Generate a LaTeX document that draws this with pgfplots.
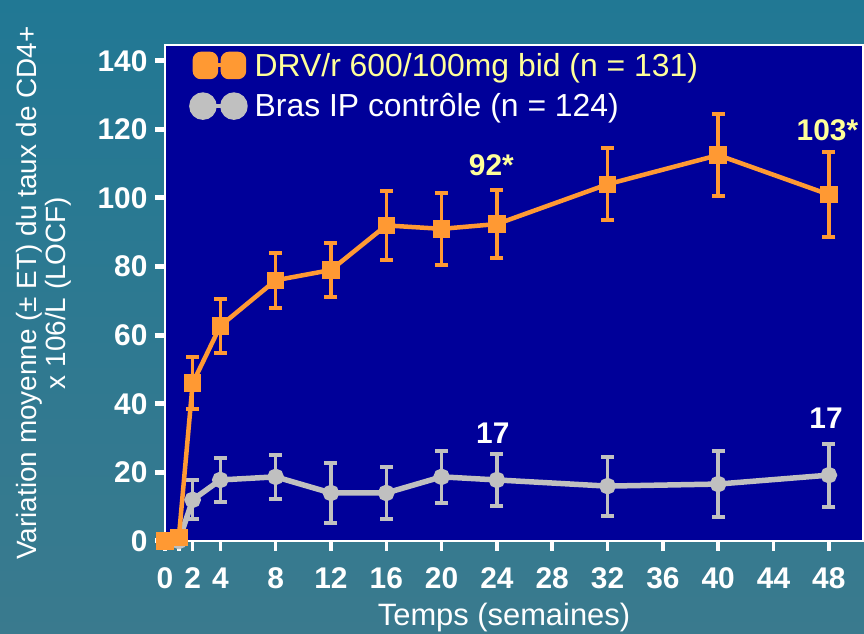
\documentclass[border=0pt]{standalone}
\usepackage{pgfplots}
\pgfplotsset{compat=1.18}
\usepackage{fontspec}
\setmainfont{Liberation Sans}
\definecolor{bgblue}{RGB}{0,0,153}
\definecolor{orn}{RGB}{255,153,51}
\definecolor{gry}{RGB}{192,192,192}
\definecolor{yel}{RGB}{255,255,153}
\definecolor{tealA}{RGB}{33,120,148}
\definecolor{tealB}{RGB}{58,122,142}

\pgfplotstableread{
x y e
0 0 0
1 1 0
2 46 7.5
4 62.7 7.8
8 76 8
12 79 8
16 92 10
20 91 10.5
24 92.4 10
32 104 10.5
40 112.5 12
48 101 12.3
}\drvdata

\pgfplotstableread{
x y e
0 0 0
1 0 0
2 12 5.7
4 17.8 6.4
8 18.7 6.5
12 14 8.7
16 14 7.6
20 18.7 7.6
24 17.8 7.7
32 16 8.6
40 16.6 9.5
48 19.2 9.2
}\ipdata

\begin{document}
\begin{tikzpicture}[x=1bp,y=1bp]
\shade[top color=tealA,bottom color=tealB] (-165,-93) rectangle (699,541);
\begin{axis}[at={(0,0)},anchor=south west, scale only axis,
  width=698bp, height=496bp,
  xmin=0, xmax=50.47, ymin=0, ymax=144.6, clip=false,
  axis background/.style={fill=bgblue},
  axis line style={white, line width=1.5bp},
  xtick={0,1,2,4,8,12,16,20,24,28,32,36,40,44,48},
  xticklabels={0,,2,4,8,12,16,20,24,28,32,36,40,44,48},
  ytick={0,20,...,140},
  xtick pos=bottom, ytick pos=left,
  tick align=outside, major tick length=10bp,
  every x tick/.style={white, line width=3.5bp},
  every y tick/.style={white, line width=5bp},
  ticklabel style={font=\fontsize{30}{31}\selectfont\bfseries, text=white},
  xticklabel style={yshift=-13bp},
  yticklabel style={xshift=-4bp},
  /pgf/number format/assume math mode=true,
  xlabel={Temps (semaines)},
  xlabel style={at={(rel axis cs:0,0)}, anchor=center, xshift=339bp, yshift=-77bp,
    font=\fontsize{31}{31}\selectfont, text=white},
  ylabel={Variation moyenne (± ET) du taux de CD4+\\x 106/L (LOCF)},
  ylabel style={at={(rel axis cs:0,0.5)}, anchor=center, yshift=121bp,
    align=center, font=\fontsize{28}{29}\selectfont, text=white},
  legend style={at={(rel axis cs:0,1)}, anchor=north west, xshift=21bp, yshift=-4bp,
    draw=none, fill=none, font=\fontsize{32}{33}\selectfont,
    row sep=12bp},
  legend cell align=left,
  reverse legend,
]
\addplot[gry, line width=5.5bp, mark=*, mark size=5.5bp,
  error bars/.cd, y dir=both, y explicit,
  error bar style={line width=3.5bp, gry},
  error mark options={rotate=90, line width=4bp, mark size=6.5bp, gry},
  /pgfplots/legend image code/.code={
    \draw[gry,line width=4bp] (10.5bp,0bp)--(38.5bp,0bp);
    \fill[gry] (8bp,0bp) circle (11bp);
    \fill[gry] (39bp,0bp) circle (11bp);
    \path (55bp,0bp);}
  ] table[x=x, y=y, y error=e] {\ipdata};
\addlegendentry{\color{white}Bras IP contrôle (n = 124)}
\addplot[orn, line width=4.5bp, mark=square*, mark size=6.5bp,
  error bars/.cd, y dir=both, y explicit,
  error bar style={line width=3.5bp, orn},
  error mark options={rotate=90, line width=4bp, mark size=6.5bp, orn},
  /pgfplots/legend image code/.code={
    \draw[orn,line width=4bp] (10.5bp,0bp)--(38.5bp,0bp);
    \fill[orn,rounded corners=6bp] (0bp,-11.5bp) rectangle (21bp,11.5bp);
    \fill[orn,rounded corners=6bp] (28bp,-11.5bp) rectangle (49bp,11.5bp);
    \path (55bp,0bp);}
  ] table[x=x, y=y, y error=e] {\drvdata};
\addlegendentry{\color{yel}DRV/r 600/100mg bid (n = 131)}
\node[font=\fontsize{30}{30}\selectfont\bfseries, text=yel] at (axis cs:23.6,109.6) {92*};
\node[font=\fontsize{30}{30}\selectfont\bfseries, text=yel] at (axis cs:47.9,119.8) {103*};
\node[font=\fontsize{30}{30}\selectfont\bfseries, text=white] at (axis cs:23.7,31.5) {17};
\node[font=\fontsize{30}{30}\selectfont\bfseries, text=white] at (axis cs:47.8,35.9) {17};
\end{axis}
\pgfresetboundingbox
\path[use as bounding box] (-165,-93) rectangle (699,541);
\end{tikzpicture}
\end{document}
